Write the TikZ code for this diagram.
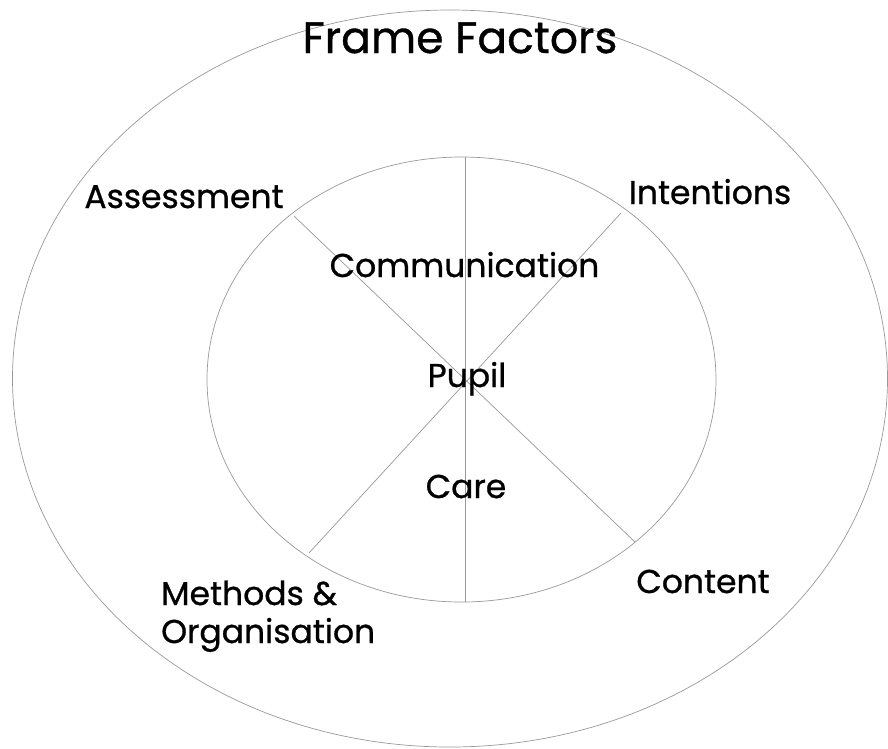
\documentclass[tikz,border=0pt]{standalone}
\usepackage{fontspec}
\setmainfont{Poppins}[FakeBold=0.8,AutoFakeBold=0.8]
\begin{document}
\begin{tikzpicture}[x=1pt,y=-1pt,
  ring/.style={draw=black!40, line width=0.7pt},
  spoke/.style={draw=black!40, line width=0.7pt},
  lbl/.style={font=\fontsize{33}{38}\selectfont\bfseries, inner sep=0pt, anchor=base},
  title/.style={font=\fontsize{44}{50}\selectfont\bfseries, inner sep=0pt, anchor=base},
  ]
\useasboundingbox (0,0) rectangle (888,748);
\fill[white] (0,0) rectangle (888,748);
% outer and inner rings
\draw[ring] (450,378.5) ellipse [x radius=437.5, y radius=368.5];
\draw[ring] (461.5,379.5) ellipse [x radius=254.5, y radius=222.5];
% spoke end points on the inner ring
\coordinate (vt) at (465,157);
\coordinate (vb) at (465,602);
\coordinate (ul) at (294,216);
\coordinate (lr) at (635,542);
\coordinate (ur) at (621,213);
\coordinate (ll) at (309,553);
\draw[spoke] (vt) -- (vb);
\draw[spoke] (ul) -- (lr);
\draw[spoke] (ur) -- (ll);
% labels
\node[title] (frame) at (460,53) {Frame Factors};
\node[lbl] (assess) at (184,208) {Assessment};
\node[lbl] (intent) at (710,204) {Intentions};
\node[lbl] (comm) at (464.5,277) {Communication};
\node[lbl] (pupil) at (467,387) {Pupil};
\node[lbl] (care) at (466,498) {Care};
\node[lbl] (content) at (703,593) {Content};
\node[lbl, anchor=base west] (methods) at (161,605) {Methods \&};
\node[lbl, anchor=base west] (organ) at (161,643) {Organisation};
\end{tikzpicture}
\end{document}
